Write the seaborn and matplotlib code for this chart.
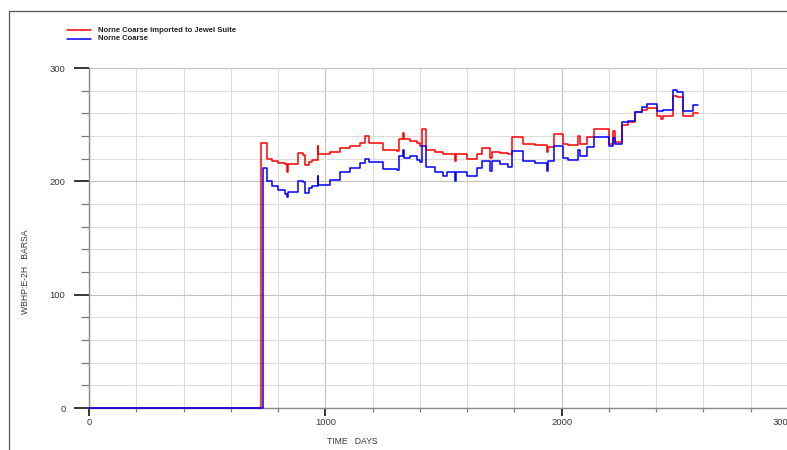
import matplotlib
matplotlib.use("Agg")
import matplotlib.pyplot as plt
from matplotlib.lines import Line2D
from matplotlib.ticker import FixedLocator, MultipleLocator
from matplotlib.transforms import ScaledTranslation
import pandas as pd
import seaborn as sns

# Well bottom-hole pressure, well E-2H (BARSA) against simulation time (DAYS)
days = [0, 730, 738, 752, 774, 800, 829, 837, 844, 884, 906, 914, 931, 944,
        967, 971, 1020, 1062, 1105, 1147, 1168, 1185, 1244, 1303, 1310, 1329,
        1333, 1358, 1388, 1401, 1408, 1426, 1464, 1498, 1515, 1549, 1553, 1600,
        1642, 1663, 1695, 1705, 1739, 1773, 1790, 1837, 1887, 1938, 1942, 1968,
        2006, 2027, 2069, 2078, 2107, 2135, 2201, 2217, 2226, 2256, 2281, 2311,
        2340, 2361, 2402, 2421, 2429, 2471, 2488, 2514, 2556, 2577]
wbhp_jewel = [0, 234, 234, 220, 218, 216, 215, 208, 215, 225, 223, 214, 217, 219,
              231, 224, 226, 229, 231, 234, 240, 234, 228, 227, 237, 243,
              237, 236, 234, 231, 246, 228, 226, 224, 224, 218, 224, 220,
              224, 229, 221, 226, 225, 224, 239, 233, 232, 226, 230, 242,
              233, 232, 240, 233, 239, 246, 233, 244, 235, 250, 252, 261,
              263, 265, 258, 255, 258, 275, 274, 258, 260, 260]
wbhp_coarse = [0, 0, 212, 200, 196, 192, 189, 186, 191, 200, 199, 190, 194, 196,
               205, 197, 201, 208, 212, 216, 220, 217, 211, 210, 222, 228,
               221, 222, 219, 217, 231, 213, 208, 205, 208, 200, 208, 205,
               212, 218, 209, 218, 215, 213, 227, 218, 216, 209, 218, 231,
               221, 219, 228, 222, 230, 239, 231, 238, 233, 252, 253, 261,
               266, 268, 262, 262, 263, 281, 279, 262, 267, 267]

series_names = ["Norne Coarse imported to Jewel Suite", "Norne Coarse"]
series_colors = ["#ff0000", "#0000ff"]
x_ticks = [0, 1000, 2000, 3000]
y_ticks = [0, 100, 200, 300]
x_label = "TIME   DAYS"
y_label = "WBHP:E-2H   BARSA"

df = pd.concat([
    pd.DataFrame({"day": days, "wbhp": wbhp_jewel, "series": series_names[0]}),
    pd.DataFrame({"day": days, "wbhp": wbhp_coarse, "series": series_names[1]}),
], ignore_index=True)

sns.set_style("white")
plt.rcParams["font.family"] = ["Liberation Sans", "DejaVu Sans"]

W, H = 787, 450
fig = plt.figure(figsize=(W / 100, H / 100), dpi=100)
px_per_day = 236.3 / 1000
x_max = 3200
ax = fig.add_axes([89 / W, (H - 408) / H, x_max * px_per_day / W, 340 / H])

sns.lineplot(data=df, x="day", y="wbhp", hue="series", hue_order=series_names,
             palette=series_colors, estimator=None, sort=False,
             drawstyle="steps-post", linewidth=1.1, legend=False,
             clip_on=False, zorder=5, ax=ax)

ax.set_xlim(0, x_max)
ax.set_ylim(0, 300)
ax.set_xlabel("")
ax.set_ylabel("")

ax.xaxis.set_major_locator(FixedLocator(x_ticks))
ax.xaxis.set_minor_locator(MultipleLocator(200))
ax.yaxis.set_major_locator(FixedLocator(y_ticks))
ax.yaxis.set_minor_locator(MultipleLocator(20))

ax.grid(which="major", color="#c2c2c2", linewidth=0.8)
ax.grid(which="minor", color="#dcdcdc", linewidth=0.8)
ax.set_axisbelow(True)

for side in ("top", "right"):
    ax.spines[side].set_visible(False)
for side in ("left", "bottom"):
    ax.spines[side].set_color("#8a8a8a")
    ax.spines[side].set_linewidth(1.0)

ax.tick_params(which="both", bottom=True, left=True, direction="out")
ax.tick_params(axis="y", which="major", length=11, width=1.1, color="black",
               pad=6, labelsize=6.8, labelcolor="#3a3a3a")
ax.tick_params(axis="y", which="minor", length=5.5, width=0.9, color="#7a7a7a")
ax.tick_params(axis="x", which="major", length=6, width=1.1, color="black",
               pad=1.5, labelsize=6.8, labelcolor="#3a3a3a")
ax.tick_params(axis="x", which="minor", length=3, width=0.9, color="#7a7a7a")

# the last tick label is pulled inward so it sits against the right border
fig.canvas.draw()
last_label = ax.get_xticklabels()[-1]
last_label.set_transform(last_label.get_transform()
                         + ScaledTranslation(-15 / 100, 0, fig.dpi_scale_trans))

fig.text(352 / W, 1 - 442 / H, x_label, ha="center", va="center",
         fontsize=6.2, color="#3a3a3a")
fig.text(26 / W, 1 - 272 / H, y_label, ha="center", va="center",
         rotation=90, fontsize=6.2, color="#3a3a3a")

# legend block in the top-left corner
for i, (name, col) in enumerate(zip(series_names, series_colors)):
    yy = 1 - (30 + 9 * i) / H
    fig.add_artist(Line2D([67 / W, 91 / W], [yy, yy], color=col, linewidth=1.1))
    fig.text(98 / W, yy, name, ha="left", va="center", fontsize=5.5,
             fontweight="bold", color="#222222")

# outer frame
fig.add_artist(Line2D([8.5 / W, 1.0], [1 - 10.5 / H, 1 - 10.5 / H],
                      color="#555555", linewidth=0.9))
fig.add_artist(Line2D([8.5 / W, 8.5 / W], [0.0, 1 - 10.5 / H],
                      color="#555555", linewidth=0.9))

fig.savefig("out.png", dpi=100)
